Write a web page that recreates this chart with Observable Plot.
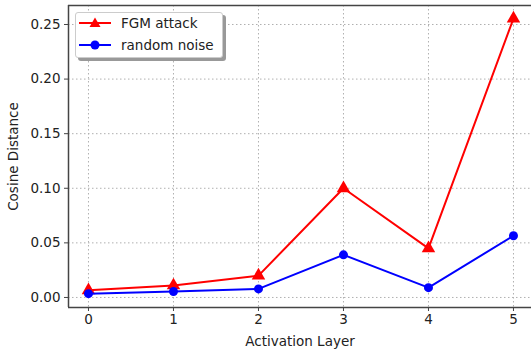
<!DOCTYPE html>
<html><head><meta charset="utf-8">
<script src="https://cdn.jsdelivr.net/npm/d3@7"></script>
<script src="https://cdn.jsdelivr.net/npm/@observablehq/plot@0.6"></script>
<style>
body{margin:0;background:#fff;font-family:"DejaVu Sans",sans-serif;}
#wrap{position:relative;width:531px;height:350px;}
#legend{position:absolute;left:75px;top:12px;width:146px;height:44px;background:#fff;border:1px solid #ccc;border-radius:3px;box-shadow:3px 3px 0 #999;font-size:13.5px;color:#222;}
#legend div{position:absolute;left:3px;display:flex;align-items:center;height:14px;}
#legend svg{margin-right:10px;}
</style></head><body>
<div id="wrap"><div id="chart"></div>
<div id="legend">
<div style="top:3px"><svg width="32" height="14"><line x1="0" x2="32" y1="7" y2="7" stroke="#ff0000" stroke-width="2"/><path d="M16,1.5 L21.5,11 L10.5,11Z" fill="#ff0000"/></svg>FGM attack</div>
<div style="top:25px"><svg width="32" height="14"><line x1="0" x2="32" y1="7" y2="7" stroke="#0000ff" stroke-width="2"/><circle cx="16" cy="7" r="4.5" fill="#0000ff"/></svg>random noise</div>
</div></div>
<script>
const layers = [0, 1, 2, 3, 4, 5];
const fgm = [0.0065, 0.011, 0.020, 0.100, 0.045, 0.2555];
const noise = [0.0035, 0.0055, 0.0078, 0.039, 0.009, 0.0565];
const yTicks = [0.00, 0.05, 0.10, 0.15, 0.20, 0.25];
const xDomain = [-0.235, 5.212];
const yDomain = [-0.0092, 0.2674];

const fgmData = layers.map((l, i) => ({l, v: fgm[i]}));
const noiseData = layers.map((l, i) => ({l, v: noise[i]}));

const chart = Plot.plot({
  width: 531, height: 350,
  marginLeft: 68, marginRight: 0, marginTop: 5, marginBottom: 43,
  style: {fontFamily: "DejaVu Sans, sans-serif", fontSize: "13.5px", color: "#222", background: "#fff"},
  x: {domain: xDomain},
  y: {domain: yDomain},
  marks: [
    Plot.gridX(layers, {stroke: "#b0b0b0", strokeOpacity: 1, strokeDasharray: "1.5,2.5", strokeWidth: 1}),
    Plot.gridY(yTicks, {stroke: "#b0b0b0", strokeOpacity: 1, strokeDasharray: "1.5,2.5", strokeWidth: 1}),
    Plot.ruleX([xDomain[0]], {stroke: "#444", strokeWidth: 1.5}),
    Plot.ruleY([yDomain[0], yDomain[1]], {stroke: "#444", strokeWidth: 1.5}),
    Plot.axisX({ticks: layers, tickFormat: d => d, tickSize: 4, tickPadding: 3, stroke: "#444", label: "Activation Layer", labelAnchor: "center", labelArrow: "none", labelOffset: 38}),
    Plot.axisY({ticks: yTicks, tickFormat: d3.format(".2f"), tickSize: 4, tickPadding: 4, stroke: "#444", label: "Cosine Distance", labelAnchor: "center", labelArrow: "none", labelOffset: 60}),
    Plot.line(fgmData, {x: "l", y: "v", stroke: "#ff0000", strokeWidth: 2}),
    Plot.dot(fgmData, {x: "l", y: "v", fill: "#ff0000", symbol: "triangle", r: 5}),
    Plot.line(noiseData, {x: "l", y: "v", stroke: "#0000ff", strokeWidth: 2}),
    Plot.dot(noiseData, {x: "l", y: "v", fill: "#0000ff", r: 4.5})
  ]
});
document.getElementById("chart").appendChild(chart);
</script></body></html>
